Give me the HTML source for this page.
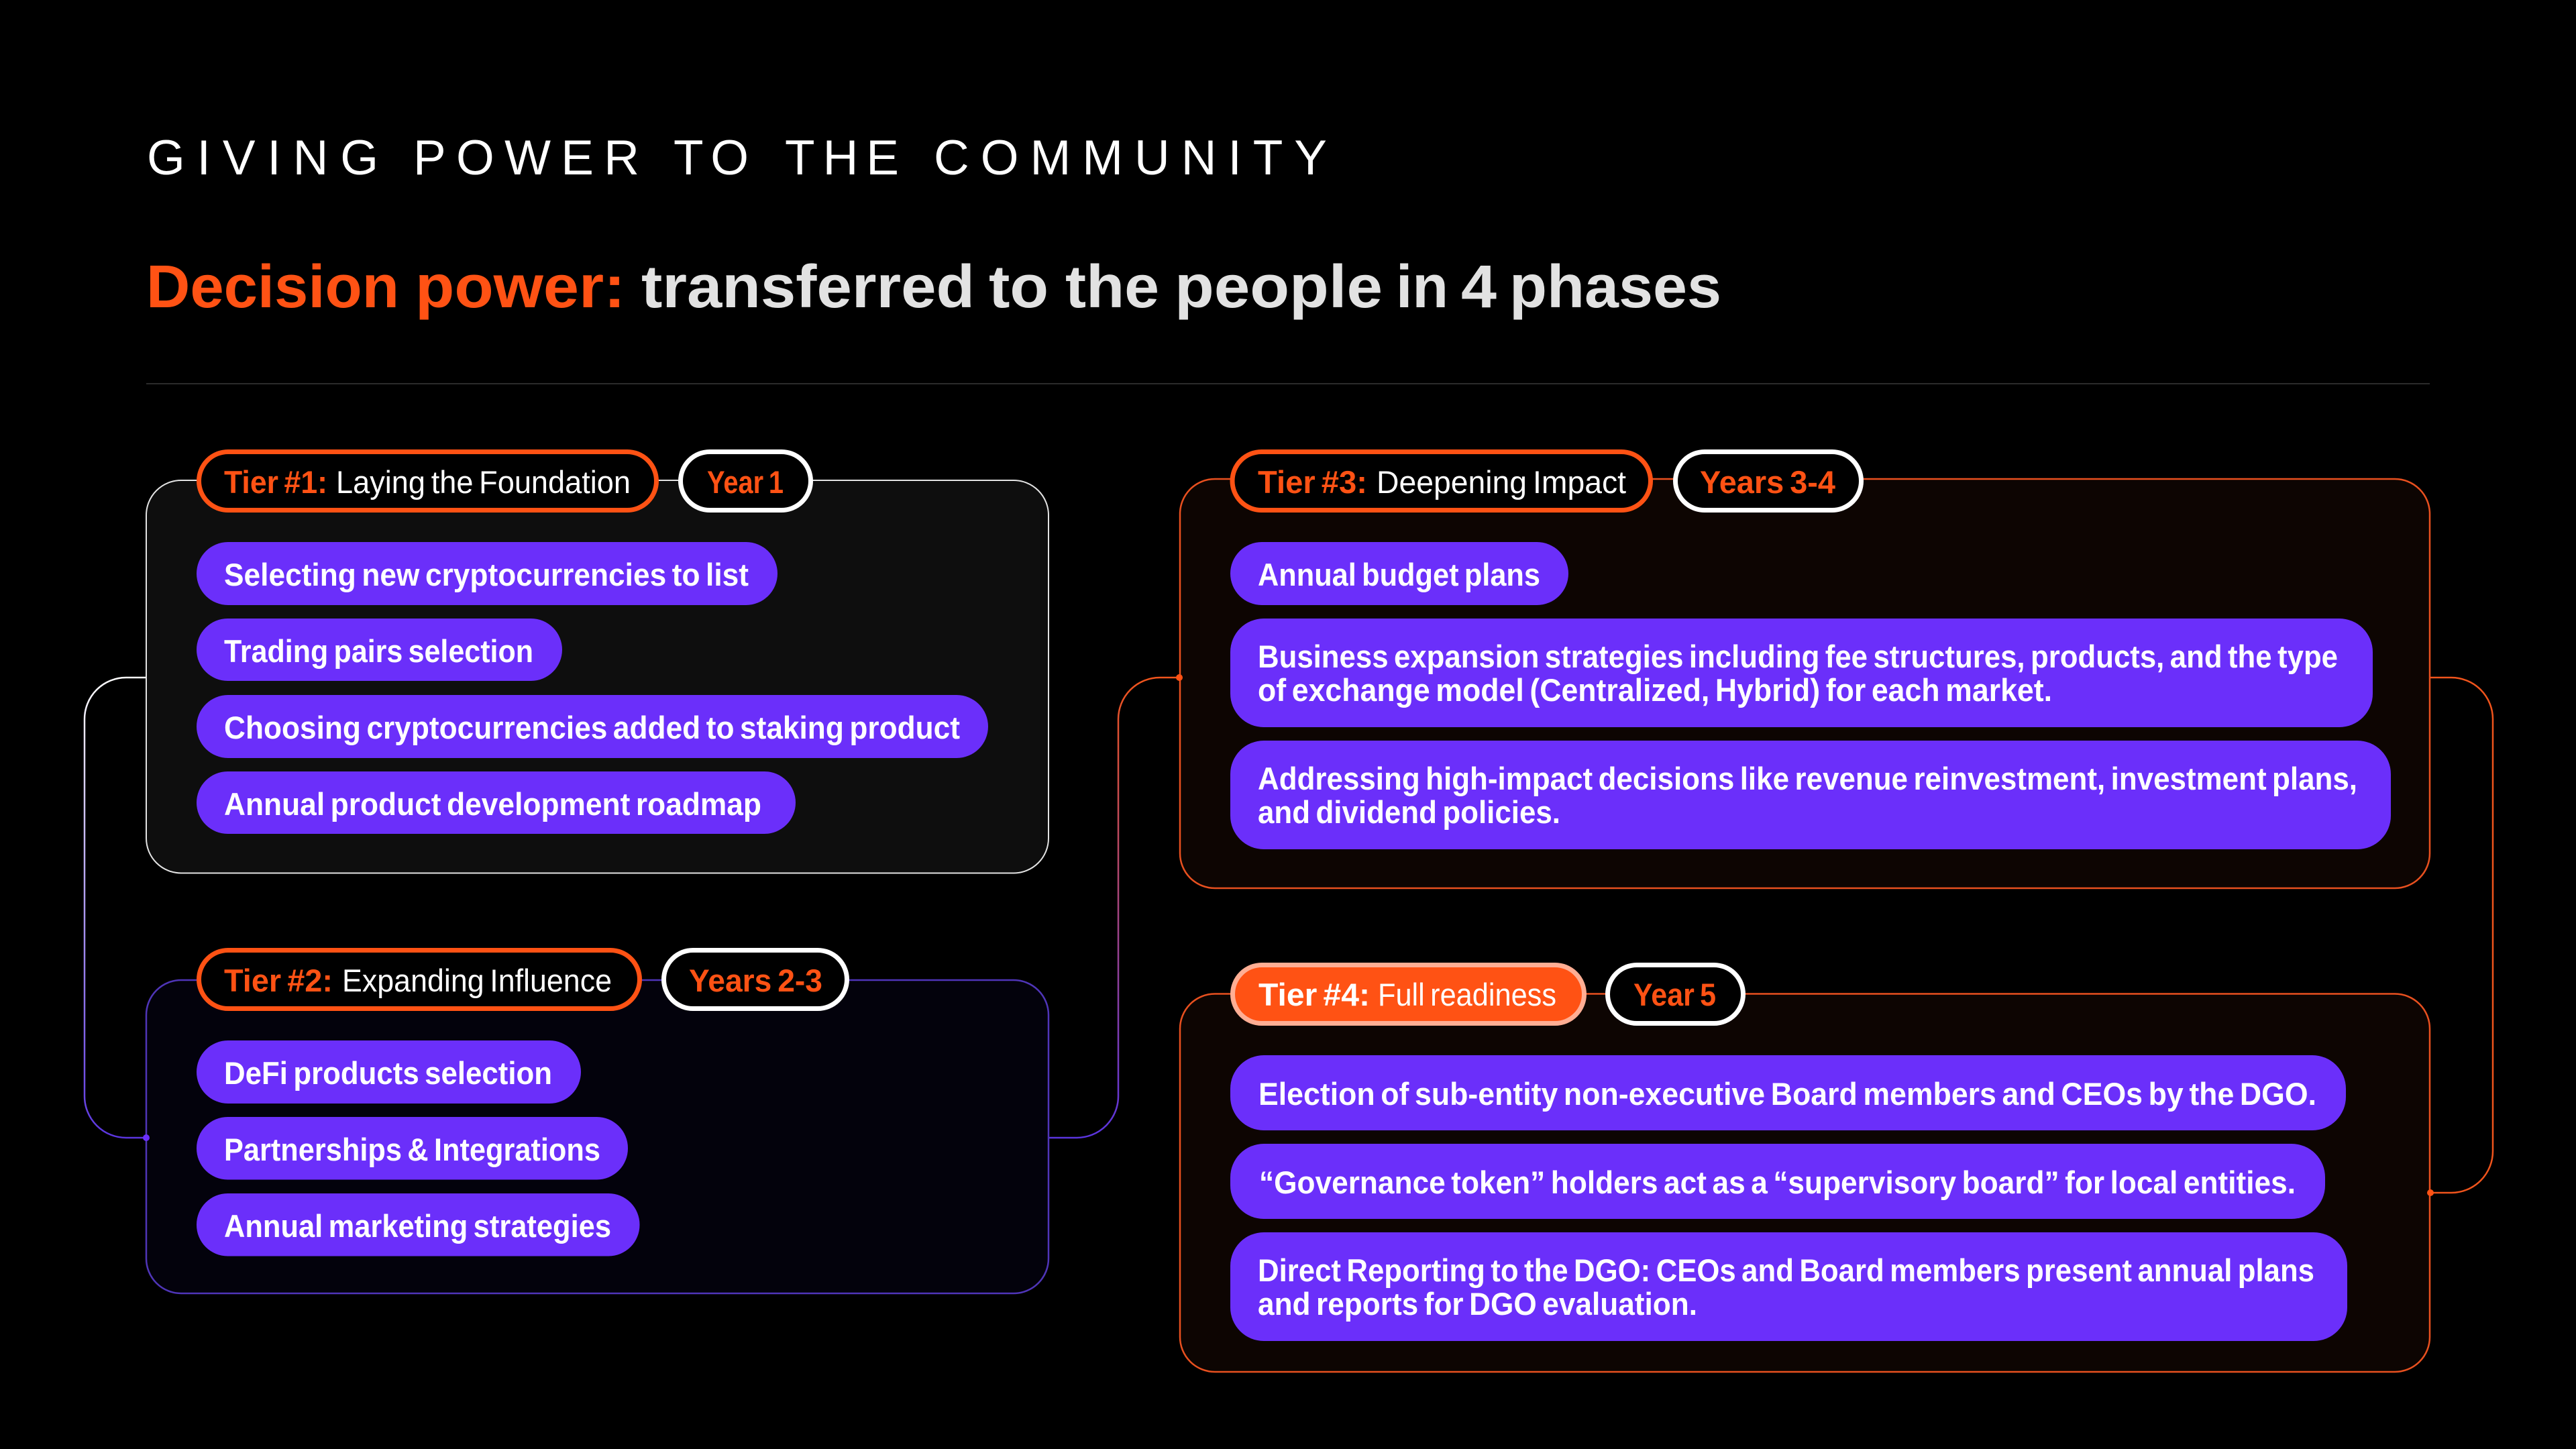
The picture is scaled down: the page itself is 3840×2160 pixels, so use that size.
<!DOCTYPE html>
<html lang="en">
<head>
<meta charset="utf-8">
<title>Giving power to the community</title>
<style>
html,body{margin:0;padding:0;background:#000;width:3840px;height:2160px;overflow:hidden}
svg{display:block}
text{font-family:"Liberation Sans",sans-serif;white-space:pre}
.b{font-weight:700;font-size:47px;fill:#fff;word-spacing:-4px}
.o{font-weight:700;font-size:47px;fill:#FF5214;word-spacing:-4px}
.l{font-weight:400;font-size:47px;fill:#fff;word-spacing:-4px}
.k{font-size:73px;fill:#fff}
.h1{font-size:90px;font-weight:700;fill:#FF5214}
.h2{font-size:90px;font-weight:700;fill:#E2E2E2}
.p{fill:#6B2FFA}
.t{fill:#000;stroke:#FF5214;stroke-width:7}
.y{fill:#000;stroke:#fff;stroke-width:7}
</style>
</head>
<body>
<svg width="3840" height="2160" viewBox="0 0 3840 2160" xmlns="http://www.w3.org/2000/svg">
<defs>
<linearGradient id="gl" gradientUnits="userSpaceOnUse" x1="0" y1="1010" x2="0" y2="1696"><stop offset="0" stop-color="#ffffff"/><stop offset="1" stop-color="#5B35E0"/></linearGradient>
<linearGradient id="gm" gradientUnits="userSpaceOnUse" x1="0" y1="1010" x2="0" y2="1696"><stop offset="0" stop-color="#F0541C"/><stop offset="1" stop-color="#5B35E0"/></linearGradient>
</defs>
<rect width="3840" height="2160" fill="#000"/>

<text x="219" y="260" class="k" textLength="345" lengthAdjust="spacing">GIVING</text>
<text x="616" y="260" class="k" textLength="337" lengthAdjust="spacing">POWER</text>
<text x="1004" y="260" class="k" textLength="112" lengthAdjust="spacing">TO</text>
<text x="1170" y="260" class="k" textLength="170" lengthAdjust="spacing">THE</text>
<text x="1392" y="260" class="k" textLength="586" lengthAdjust="spacing">COMMUNITY</text>

<text x="218" y="458" class="h1" textLength="377" lengthAdjust="spacingAndGlyphs">Decision</text>
<text x="619" y="458" class="h1" textLength="313" lengthAdjust="spacingAndGlyphs">power:</text>
<text x="956" y="458" class="h2" textLength="497" lengthAdjust="spacingAndGlyphs">transferred</text>
<text x="1474" y="458" class="h2" textLength="89" lengthAdjust="spacingAndGlyphs">to</text>
<text x="1588" y="458" class="h2" textLength="140" lengthAdjust="spacingAndGlyphs">the</text>
<text x="1751" y="458" class="h2" textLength="310" lengthAdjust="spacingAndGlyphs">people</text>
<text x="2081" y="458" class="h2" textLength="78" lengthAdjust="spacingAndGlyphs">in</text>
<text x="2178" y="458" class="h2" textLength="53" lengthAdjust="spacingAndGlyphs">4</text>
<text x="2250" y="458" class="h2" textLength="316" lengthAdjust="spacingAndGlyphs">phases</text>
<rect x="218" y="571" width="3404" height="2" fill="#2B2B2B"/>

<!-- connectors -->
<path d="M218 1010H188A62 62 0 0 0 126 1072V1634A62 62 0 0 0 188 1696H218" fill="none" stroke="url(#gl)" stroke-width="2.5"/>
<path d="M1563 1696H1605A62 62 0 0 0 1667 1634V1072A62 62 0 0 1 1729 1010H1758" fill="none" stroke="url(#gm)" stroke-width="2.5"/>
<path d="M3623 1010H3654A62 62 0 0 1 3716 1072V1716A62 62 0 0 1 3654 1778H3623" fill="none" stroke="#F0541C" stroke-width="2.5"/>

<!-- cards -->
<rect x="218" y="716" width="1345" height="585.5" rx="52" fill="#0E0E0E" stroke="#E4E4E4" stroke-width="2"/>
<rect x="218" y="1461" width="1345" height="467" rx="52" fill="#03020C" stroke="#4F35B8" stroke-width="2.5"/>
<rect x="1759" y="714" width="1863" height="610" rx="52" fill="#0D0502" stroke="#E8501F" stroke-width="2.5"/>
<rect x="1759" y="1481.5" width="1863" height="563.5" rx="52" fill="#0D0502" stroke="#E8501F" stroke-width="2.5"/>

<circle cx="218" cy="1696" r="5" fill="#6B2FFA"/>
<circle cx="1758" cy="1010" r="5" fill="#FF5214"/>
<circle cx="3623" cy="1778" r="5" fill="#FF5214"/>

<!-- Tier 1 -->
<rect x="296.500" y="673.500" width="682" height="87" rx="43.500" class="t"/>
<text x="334" y="735" class="o" textLength="154" lengthAdjust="spacingAndGlyphs">Tier #1:</text>
<text x="501" y="735" class="l" textLength="439" lengthAdjust="spacingAndGlyphs">Laying the Foundation</text>
<rect x="1014.500" y="673.500" width="194" height="87" rx="43.500" class="y"/>
<text x="1054" y="735" class="o" textLength="114" lengthAdjust="spacingAndGlyphs">Year 1</text>

<rect x="293" y="808" width="866" height="94" rx="47" class="p"/>
<text x="334" y="873" class="b" textLength="782" lengthAdjust="spacingAndGlyphs">Selecting new cryptocurrencies to list</text>
<rect x="293" y="922" width="545" height="93" rx="46.500" class="p"/>
<text x="334" y="987" class="b" textLength="461" lengthAdjust="spacingAndGlyphs">Trading pairs selection</text>
<rect x="293" y="1036" width="1180" height="94" rx="47" class="p"/>
<text x="334" y="1101" class="b" textLength="1097" lengthAdjust="spacingAndGlyphs">Choosing cryptocurrencies added to staking product</text>
<rect x="293" y="1150" width="893" height="93" rx="46.500" class="p"/>
<text x="334" y="1215" class="b" textLength="801" lengthAdjust="spacingAndGlyphs">Annual product development roadmap</text>

<!-- Tier 2 -->
<rect x="296.500" y="1416.500" width="657" height="87" rx="43.500" class="t"/>
<text x="334" y="1478" class="o" textLength="162" lengthAdjust="spacingAndGlyphs">Tier #2:</text>
<text x="510" y="1478" class="l" textLength="402" lengthAdjust="spacingAndGlyphs">Expanding Influence</text>
<rect x="989.500" y="1416.500" width="273" height="87" rx="43.500" class="y"/>
<text x="1027" y="1478" class="o" textLength="199" lengthAdjust="spacingAndGlyphs">Years 2-3</text>

<rect x="293" y="1551" width="573" height="94" rx="47" class="p"/>
<text x="334" y="1616" class="b" textLength="489" lengthAdjust="spacingAndGlyphs">DeFi products selection</text>
<rect x="293" y="1665" width="643" height="93.500" rx="46.500" class="p"/>
<text x="334" y="1730" class="b" textLength="561" lengthAdjust="spacingAndGlyphs">Partnerships &amp; Integrations</text>
<rect x="293" y="1779" width="660.500" height="93.500" rx="46.500" class="p"/>
<text x="334" y="1844" class="b" textLength="577" lengthAdjust="spacingAndGlyphs">Annual marketing strategies</text>

<!-- Tier 3 -->
<rect x="1837" y="673.500" width="623.500" height="87" rx="43.500" class="t"/>
<text x="1875" y="735" class="o" textLength="163" lengthAdjust="spacingAndGlyphs">Tier #3:</text>
<text x="2052" y="735" class="l" textLength="372" lengthAdjust="spacingAndGlyphs">Deepening Impact</text>
<rect x="2497.500" y="673.500" width="277" height="87" rx="43.500" class="y"/>
<text x="2534" y="735" class="o" textLength="202" lengthAdjust="spacingAndGlyphs">Years 3-4</text>

<rect x="1834" y="808" width="504" height="94" rx="47" class="p"/>
<text x="1875" y="873" class="b" textLength="421" lengthAdjust="spacingAndGlyphs">Annual budget plans</text>
<rect x="1834" y="922" width="1703" height="162" rx="50" class="p"/>
<text x="1875" y="995" class="b" textLength="1610" lengthAdjust="spacingAndGlyphs">Business expansion strategies including fee structures, products, and the type</text>
<text x="1875" y="1045" class="b" textLength="1184" lengthAdjust="spacingAndGlyphs">of exchange model (Centralized, Hybrid) for each market.</text>
<rect x="1834" y="1104" width="1730" height="162" rx="50" class="p"/>
<text x="1875" y="1177" class="b" textLength="1639" lengthAdjust="spacingAndGlyphs">Addressing high-impact decisions like revenue reinvestment, investment plans,</text>
<text x="1875" y="1227" class="b" textLength="451" lengthAdjust="spacingAndGlyphs">and dividend policies.</text>

<!-- Tier 4 -->
<rect x="1837.500" y="1438.500" width="524" height="87" rx="43.500" fill="#FF5214" stroke="#FFAE94" stroke-width="7"/>
<text x="1876" y="1499" class="b" textLength="166" lengthAdjust="spacingAndGlyphs">Tier #4:</text>
<text x="2054" y="1499" class="l" textLength="266" lengthAdjust="spacingAndGlyphs">Full readiness</text>
<rect x="2396.500" y="1438.500" width="202" height="87" rx="43.500" class="y"/>
<text x="2435" y="1499" class="o" textLength="123" lengthAdjust="spacingAndGlyphs">Year 5</text>

<rect x="1834" y="1573" width="1663" height="112" rx="50" class="p"/>
<text x="1876" y="1647" class="b" textLength="1577" lengthAdjust="spacingAndGlyphs">Election of sub-entity non-executive Board members and CEOs by the DGO.</text>
<rect x="1834" y="1705" width="1632" height="112" rx="50" class="p"/>
<text x="1877" y="1779" class="b" textLength="1545" lengthAdjust="spacingAndGlyphs">“Governance token” holders act as a “supervisory board” for local entities.</text>
<rect x="1834" y="1837" width="1665" height="162" rx="50" class="p"/>
<text x="1875" y="1910" class="b" textLength="1575" lengthAdjust="spacingAndGlyphs">Direct Reporting to the DGO: CEOs and Board members present annual plans</text>
<text x="1875" y="1960" class="b" textLength="655" lengthAdjust="spacingAndGlyphs">and reports for DGO evaluation.</text>
</svg>
</body>
</html>
